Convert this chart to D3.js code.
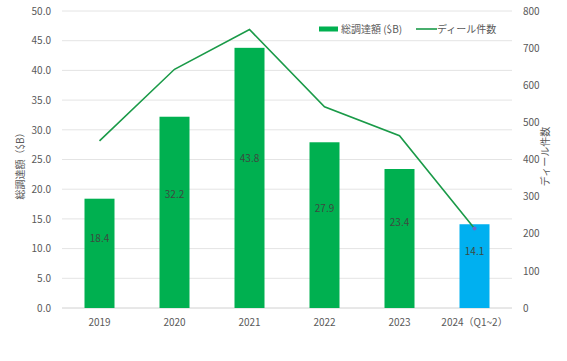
<!DOCTYPE html>
<html>
<head>
<meta charset="utf-8">
<script src="https://cdn.jsdelivr.net/npm/d3@7"></script>
<style>
  body { margin: 0; background: #fff; }
  text { font-family: "Noto Sans CJK JP", "Noto Sans", sans-serif; }
</style>
</head>
<body>
<div id="chart"></div>
<script>
// データ
const categories = ["2019", "2020", "2021", "2022", "2023", "2024（Q1~2）"];
const funding = [18.4, 32.2, 43.8, 27.9, 23.4, 14.1];
const deals = [450, 643, 750, 542, 464, 214];
const leftTicks = [0, 5, 10, 15, 20, 25, 30, 35, 40, 45, 50];
const rightTicks = [0, 100, 200, 300, 400, 500, 600, 700, 800];

const width = 567, height = 361;
const margin = { top: 11, right: 55, bottom: 53, left: 62 };

const svg = d3.select("#chart").append("svg")
  .attr("width", width)
  .attr("height", height);

const x = d3.scaleBand()
  .domain(categories)
  .range([margin.left, width - margin.right])
  .paddingInner(0.6)
  .paddingOuter(0.3);

const yL = d3.scaleLinear().domain([0, 50]).range([height - margin.bottom, margin.top]);
const yR = d3.scaleLinear().domain([0, 800]).range([height - margin.bottom, margin.top]);

// グリッド線
svg.append("g")
  .selectAll("line")
  .data(leftTicks)
  .enter().append("line")
  .attr("x1", margin.left)
  .attr("x2", width - margin.right)
  .attr("y1", d => yL(d))
  .attr("y2", d => yL(d))
  .attr("stroke", d => d === 0 ? "#d0d0d0" : "#e4e4e4")
  .attr("stroke-width", 1);

// 左軸
const axL = svg.append("g")
  .attr("transform", `translate(${margin.left - 8},0)`)
  .call(d3.axisLeft(yL).tickValues(leftTicks).tickFormat(d3.format(".1f")).tickSize(0));
axL.select(".domain").remove();
axL.selectAll("text").attr("fill", "#595959").attr("font-size", "10px");

// 右軸
const axR = svg.append("g")
  .attr("transform", `translate(${width - margin.right + 8},0)`)
  .call(d3.axisRight(yR).tickValues(rightTicks).tickSize(0));
axR.select(".domain").remove();
axR.selectAll("text").attr("fill", "#595959").attr("font-size", "10px");

// X軸
const axX = svg.append("g")
  .attr("transform", `translate(0,${height - margin.bottom + 8})`)
  .call(d3.axisBottom(x).tickSize(0));
axX.select(".domain").remove();
axX.selectAll("text").attr("fill", "#595959").attr("font-size", "10px");

// 棒グラフ
svg.append("g")
  .selectAll("rect")
  .data(funding)
  .enter().append("rect")
  .attr("x", (d, i) => x(categories[i]))
  .attr("y", d => yL(d))
  .attr("width", x.bandwidth())
  .attr("height", d => yL(0) - yL(d))
  .attr("fill", (d, i) => i === funding.length - 1 ? "#00B0F0" : "#00B050");

// 棒のラベル
svg.append("g")
  .selectAll("text")
  .data(funding)
  .enter().append("text")
  .attr("x", (d, i) => x(categories[i]) + x.bandwidth() / 2)
  .attr("y", d => yL(d * 0.53) - 12)
  .attr("dy", "0.35em")
  .attr("text-anchor", "middle")
  .attr("font-size", "10px")
  .attr("fill", "#3d4a40")
  .text(d => d.toFixed(1));

// 折れ線
const line = d3.line()
  .x((d, i) => x(categories[i]) + x.bandwidth() / 2)
  .y(d => yR(d));

svg.append("path")
  .datum(deals)
  .attr("d", line)
  .attr("fill", "none")
  .attr("stroke", "#1a9a48")
  .attr("stroke-width", 1.6);

svg.append("circle")
  .attr("cx", x(categories[5]) + x.bandwidth() / 2)
  .attr("cy", yR(deals[5]))
  .attr("r", 2)
  .attr("fill", "#6a6ac8");

// 軸タイトル
svg.append("text")
  .attr("transform", `translate(24,${(margin.top + height - margin.bottom) / 2 + 4}) rotate(-90)`)
  .attr("text-anchor", "middle")
  .attr("font-size", "10px")
  .attr("fill", "#595959")
  .text("総調達額（$B）");

svg.append("text")
  .attr("transform", `translate(549,${(margin.top + height - margin.bottom) / 2 - 3}) rotate(-90)`)
  .attr("text-anchor", "middle")
  .attr("font-size", "10px")
  .attr("fill", "#595959")
  .text("ディール件数");

// 凡例
const legend = svg.append("g");
legend.append("rect")
  .attr("x", 319).attr("y", 26.5)
  .attr("width", 19).attr("height", 5)
  .attr("fill", "#00B050");
legend.append("text")
  .attr("x", 341).attr("y", 29).attr("dy", "0.35em")
  .attr("font-size", "10px").attr("fill", "#595959")
  .text("総調達額 ($B)");
legend.append("line")
  .attr("x1", 416).attr("x2", 437)
  .attr("y1", 29).attr("y2", 29)
  .attr("stroke", "#1a9a48").attr("stroke-width", 1.6);
legend.append("text")
  .attr("x", 437).attr("y", 29).attr("dy", "0.35em")
  .attr("font-size", "10px").attr("fill", "#595959")
  .text("ディール件数");
</script>
</body>
</html>
